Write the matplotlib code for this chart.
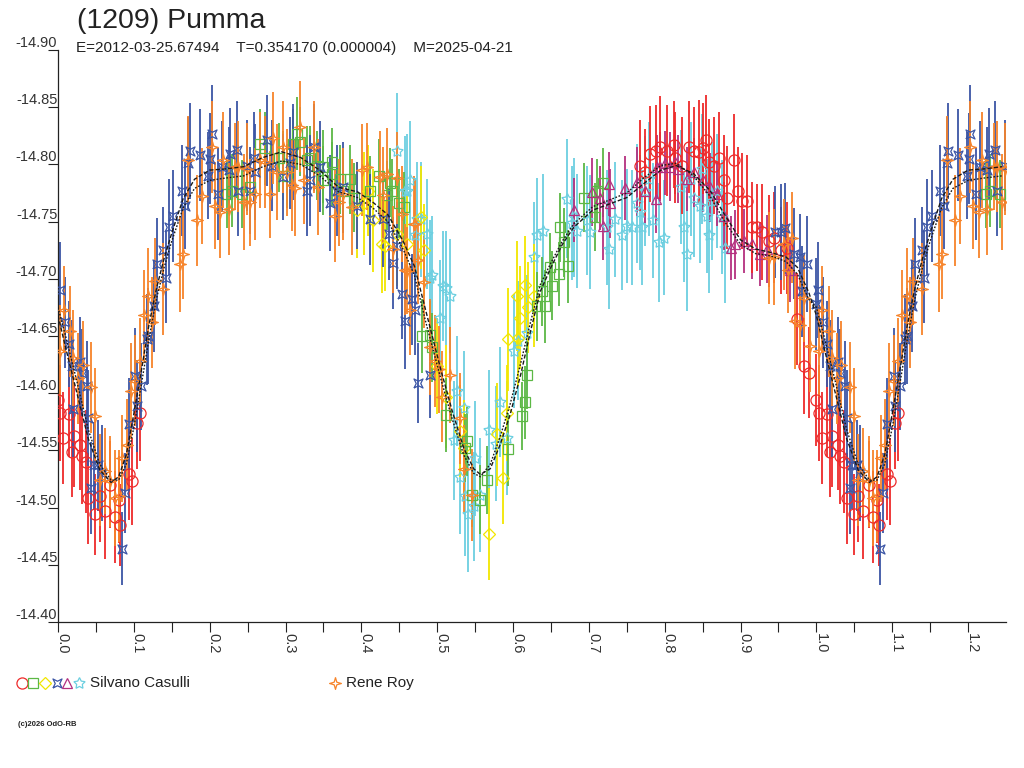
import numpy as np
import matplotlib
matplotlib.use("Agg")
import matplotlib.pyplot as plt

plt.rcParams['font.family'] = ['Liberation Sans', 'DejaVu Sans']

# Lightcurve of (1209) Pumma, folded on P=0.354170 d
# each entry: (phase, reduced magnitude, error)

casulli_circle = [
    (0.000, -14.594, 0.040), (0.003, -14.583, 0.042), (0.007, -14.561, 0.040), (0.014, -14.582, 0.038),
    (0.018, -14.549, 0.040), (0.021, -14.563, 0.045), (0.029, -14.555, 0.040), (0.031, -14.545, 0.042),
    (0.037, -14.540, 0.045), (0.040, -14.508, 0.040), (0.049, -14.494, 0.035), (0.055, -14.510, 0.040),
    (0.062, -14.497, 0.042), (0.069, -14.520, 0.038), (0.075, -14.492, 0.040), (0.080, -14.507, 0.038),
    (0.082, -14.485, 0.036), (0.093, -14.529, 0.040), (0.097, -14.523, 0.038), (0.104, -14.574, 0.040),
    (0.108, -14.583, 0.042),
    (0.768, -14.799, 0.040), (0.774, -14.793, 0.038), (0.781, -14.809, 0.042), (0.788, -14.812, 0.040),
    (0.794, -14.815, 0.045), (0.803, -14.812, 0.040), (0.812, -14.817, 0.038), (0.814, -14.806, 0.040),
    (0.823, -14.799, 0.042), (0.832, -14.815, 0.040), (0.838, -14.812, 0.038), (0.845, -14.811, 0.045),
    (0.851, -14.814, 0.040), (0.854, -14.821, 0.040), (0.858, -14.802, 0.038), (0.865, -14.799, 0.042),
    (0.871, -14.806, 0.040), (0.878, -14.786, 0.040), (0.882, -14.771, 0.045), (0.891, -14.804, 0.040),
    (0.897, -14.777, 0.038), (0.902, -14.768, 0.042), (0.909, -14.768, 0.040), (0.915, -14.745, 0.040),
    (0.922, -14.745, 0.038), (0.928, -14.741, 0.042), (0.937, -14.733, 0.040), (0.944, -14.736, 0.040),
    (0.953, -14.725, 0.038), (0.961, -14.727, 0.040), (0.975, -14.665, 0.040), (0.983, -14.624, 0.042),
    (0.990, -14.618, 0.040),
]

casulli_square = [
    (0.223, -14.774, 0.030), (0.229, -14.777, 0.032), (0.242, -14.774, 0.030), (0.253, -14.780, 0.028),
    (0.266, -14.818, 0.030), (0.273, -14.814, 0.032), (0.291, -14.806, 0.030), (0.297, -14.799, 0.030),
    (0.302, -14.790, 0.028), (0.310, -14.818, 0.030), (0.315, -14.827, 0.032), (0.319, -14.820, 0.030),
    (0.328, -14.804, 0.030), (0.332, -14.806, 0.028), (0.341, -14.799, 0.030), (0.350, -14.798, 0.032),
    (0.350, -14.786, 0.030), (0.361, -14.802, 0.030), (0.361, -14.792, 0.028), (0.372, -14.787, 0.030),
    (0.376, -14.777, 0.032), (0.385, -14.787, 0.030), (0.390, -14.771, 0.030), (0.412, -14.777, 0.030),
    (0.423, -14.790, 0.032), (0.434, -14.773, 0.030), (0.438, -14.784, 0.030), (0.440, -14.777, 0.028),
    (0.449, -14.766, 0.030), (0.456, -14.763, 0.030), (0.480, -14.650, 0.032), (0.491, -14.651, 0.030),
    (0.493, -14.640, 0.030), (0.511, -14.581, 0.032), (0.537, -14.552, 0.030), (0.539, -14.558, 0.030),
    (0.546, -14.511, 0.028), (0.557, -14.507, 0.030), (0.566, -14.524, 0.030), (0.594, -14.551, 0.032),
    (0.612, -14.580, 0.030), (0.616, -14.592, 0.032), (0.618, -14.616, 0.030), (0.632, -14.676, 0.030),
    (0.638, -14.689, 0.030), (0.642, -14.676, 0.032), (0.649, -14.710, 0.030), (0.651, -14.694, 0.030),
    (0.660, -14.704, 0.028), (0.662, -14.745, 0.030), (0.667, -14.732, 0.030), (0.673, -14.711, 0.032),
    (0.693, -14.771, 0.030), (0.708, -14.754, 0.030), (0.711, -14.777, 0.028), (0.719, -14.784, 0.030),
]

casulli_diamond = [
    (0.394, -14.760, 0.042), (0.403, -14.766, 0.045), (0.409, -14.777, 0.040), (0.416, -14.751, 0.045),
    (0.427, -14.730, 0.042), (0.431, -14.729, 0.040), (0.447, -14.739, 0.045), (0.460, -14.730, 0.042),
    (0.478, -14.754, 0.045), (0.482, -14.725, 0.040), (0.500, -14.624, 0.042), (0.511, -14.597, 0.045),
    (0.530, -14.567, 0.040), (0.535, -14.552, 0.042), (0.568, -14.477, 0.040), (0.579, -14.564, 0.045),
    (0.587, -14.526, 0.040), (0.592, -14.583, 0.042), (0.594, -14.647, 0.045), (0.605, -14.685, 0.048),
    (0.607, -14.648, 0.042), (0.609, -14.666, 0.045), (0.616, -14.695, 0.042), (0.620, -14.675, 0.040),
    (0.627, -14.685, 0.045),
]

casulli_quad = [
    (0.002, -14.690, 0.042), (0.009, -14.662, 0.040), (0.014, -14.643, 0.038), (0.018, -14.624, 0.040),
    (0.020, -14.586, 0.042), (0.029, -14.627, 0.040), (0.031, -14.618, 0.038), (0.038, -14.606, 0.040),
    (0.040, -14.578, 0.042), (0.044, -14.517, 0.040), (0.047, -14.537, 0.038), (0.053, -14.537, 0.040),
    (0.058, -14.530, 0.042), (0.084, -14.464, 0.032), (0.088, -14.513, 0.035), (0.093, -14.573, 0.040),
    (0.102, -14.615, 0.042), (0.104, -14.589, 0.040), (0.110, -14.606, 0.038), (0.117, -14.647, 0.040),
    (0.119, -14.650, 0.042), (0.126, -14.676, 0.040), (0.130, -14.713, 0.040), (0.139, -14.725, 0.038),
    (0.142, -14.701, 0.040), (0.146, -14.745, 0.042), (0.152, -14.755, 0.040), (0.163, -14.777, 0.040),
    (0.168, -14.764, 0.038), (0.172, -14.801, 0.040), (0.174, -14.812, 0.042), (0.187, -14.808, 0.040),
    (0.198, -14.790, 0.038), (0.201, -14.805, 0.040), (0.203, -14.827, 0.042), (0.211, -14.774, 0.040),
    (0.216, -14.798, 0.040), (0.225, -14.795, 0.038), (0.227, -14.809, 0.040), (0.236, -14.813, 0.042),
    (0.238, -14.777, 0.040), (0.249, -14.799, 0.040), (0.253, -14.777, 0.038), (0.258, -14.806, 0.040),
    (0.260, -14.793, 0.042), (0.275, -14.821, 0.040), (0.282, -14.799, 0.040), (0.297, -14.789, 0.038),
    (0.306, -14.801, 0.040), (0.310, -14.811, 0.042), (0.328, -14.777, 0.040), (0.332, -14.786, 0.040),
    (0.337, -14.815, 0.038), (0.346, -14.798, 0.040), (0.359, -14.766, 0.042), (0.368, -14.777, 0.040),
    (0.376, -14.780, 0.040), (0.394, -14.764, 0.038), (0.412, -14.752, 0.040), (0.429, -14.752, 0.042),
    (0.436, -14.739, 0.040), (0.442, -14.714, 0.040), (0.447, -14.729, 0.038), (0.453, -14.687, 0.040),
    (0.458, -14.663, 0.042), (0.467, -14.682, 0.040), (0.471, -14.673, 0.040), (0.475, -14.609, 0.035),
    (0.491, -14.616, 0.038),
    (0.946, -14.741, 0.040), (0.953, -14.741, 0.042), (0.959, -14.744, 0.040), (0.970, -14.722, 0.040),
    (0.979, -14.719, 0.038), (0.981, -14.689, 0.040), (0.988, -14.713, 0.042), (0.999, -14.678, 0.040),
]

casulli_triangle = [
    (0.680, -14.760, 0.028), (0.704, -14.776, 0.030), (0.715, -14.771, 0.028), (0.719, -14.746, 0.030),
    (0.726, -14.783, 0.028), (0.728, -14.766, 0.030), (0.748, -14.779, 0.028), (0.763, -14.785, 0.030),
    (0.774, -14.777, 0.028), (0.788, -14.770, 0.030), (0.790, -14.798, 0.028), (0.794, -14.798, 0.030),
    (0.801, -14.801, 0.028), (0.807, -14.798, 0.030), (0.814, -14.802, 0.028), (0.818, -14.796, 0.030),
    (0.829, -14.787, 0.028), (0.838, -14.793, 0.030), (0.851, -14.786, 0.028), (0.860, -14.780, 0.030),
    (0.869, -14.774, 0.028), (0.878, -14.755, 0.030), (0.887, -14.727, 0.028), (0.893, -14.730, 0.030),
    (0.904, -14.733, 0.028), (0.915, -14.730, 0.030), (0.926, -14.722, 0.028), (0.935, -14.726, 0.030),
    (0.965, -14.708, 0.028),
]

casulli_star = [
    (0.447, -14.812, 0.050), (0.458, -14.777, 0.048), (0.460, -14.777, 0.050), (0.464, -14.786, 0.052),
    (0.471, -14.738, 0.048), (0.473, -14.752, 0.050), (0.478, -14.752, 0.050), (0.486, -14.739, 0.048),
    (0.491, -14.701, 0.050), (0.493, -14.703, 0.052), (0.504, -14.666, 0.050), (0.508, -14.694, 0.048),
    (0.511, -14.692, 0.050), (0.517, -14.685, 0.050), (0.522, -14.559, 0.052), (0.526, -14.602, 0.048),
    (0.530, -14.527, 0.050), (0.535, -14.587, 0.050), (0.537, -14.510, 0.052), (0.541, -14.494, 0.050),
    (0.548, -14.501, 0.048), (0.550, -14.543, 0.050), (0.557, -14.511, 0.050), (0.568, -14.568, 0.052),
    (0.577, -14.556, 0.050), (0.583, -14.592, 0.048), (0.592, -14.561, 0.050), (0.601, -14.637, 0.050),
    (0.607, -14.646, 0.052), (0.618, -14.653, 0.050), (0.627, -14.719, 0.048), (0.632, -14.738, 0.050),
    (0.640, -14.742, 0.050), (0.671, -14.770, 0.052), (0.678, -14.749, 0.050), (0.680, -14.754, 0.052),
    (0.684, -14.742, 0.050), (0.697, -14.751, 0.048), (0.702, -14.741, 0.050), (0.724, -14.745, 0.050),
    (0.726, -14.726, 0.052), (0.735, -14.752, 0.050), (0.744, -14.738, 0.048), (0.750, -14.746, 0.050),
    (0.757, -14.745, 0.050), (0.763, -14.766, 0.052), (0.768, -14.758, 0.050), (0.770, -14.745, 0.050),
    (0.774, -14.777, 0.048), (0.779, -14.787, 0.050), (0.785, -14.751, 0.050), (0.792, -14.732, 0.052),
    (0.799, -14.736, 0.050), (0.821, -14.780, 0.050), (0.825, -14.745, 0.048), (0.829, -14.722, 0.050),
    (0.834, -14.787, 0.050), (0.838, -14.771, 0.052), (0.847, -14.764, 0.050), (0.849, -14.796, 0.048),
    (0.856, -14.755, 0.050), (0.858, -14.738, 0.050), (0.862, -14.768, 0.052), (0.869, -14.777, 0.050),
    (0.876, -14.754, 0.050), (0.880, -14.727, 0.048),
]

roy = [
    (0.003, -14.637, 0.040), (0.008, -14.673, 0.038), (0.016, -14.654, 0.040), (0.020, -14.631, 0.042),
    (0.027, -14.613, 0.040), (0.033, -14.625, 0.038), (0.044, -14.605, 0.040), (0.049, -14.580, 0.042),
    (0.055, -14.524, 0.040), (0.062, -14.532, 0.038), (0.069, -14.523, 0.040), (0.075, -14.508, 0.042),
    (0.080, -14.510, 0.040), (0.085, -14.543, 0.038), (0.091, -14.555, 0.040), (0.096, -14.602, 0.042),
    (0.102, -14.611, 0.040), (0.108, -14.628, 0.038), (0.113, -14.668, 0.040), (0.119, -14.685, 0.042),
    (0.124, -14.662, 0.040), (0.128, -14.698, 0.038), (0.139, -14.691, 0.040), (0.161, -14.713, 0.042),
    (0.165, -14.722, 0.040), (0.172, -14.804, 0.038), (0.183, -14.751, 0.040), (0.190, -14.772, 0.042),
    (0.203, -14.815, 0.040), (0.207, -14.764, 0.038), (0.214, -14.758, 0.040), (0.218, -14.804, 0.042),
    (0.225, -14.761, 0.040), (0.234, -14.798, 0.038), (0.238, -14.798, 0.040), (0.245, -14.767, 0.042),
    (0.249, -14.796, 0.040), (0.253, -14.767, 0.038), (0.260, -14.774, 0.040), (0.266, -14.804, 0.042),
    (0.273, -14.802, 0.040), (0.280, -14.774, 0.038), (0.284, -14.823, 0.040), (0.289, -14.793, 0.042),
    (0.297, -14.815, 0.040), (0.302, -14.793, 0.038), (0.308, -14.782, 0.040), (0.313, -14.779, 0.042),
    (0.319, -14.833, 0.040), (0.324, -14.786, 0.038), (0.337, -14.815, 0.040), (0.343, -14.780, 0.042),
    (0.365, -14.755, 0.040), (0.370, -14.767, 0.038), (0.376, -14.774, 0.040), (0.387, -14.763, 0.042),
    (0.401, -14.795, 0.040), (0.407, -14.798, 0.038), (0.425, -14.789, 0.040), (0.429, -14.773, 0.042),
    (0.434, -14.792, 0.040), (0.442, -14.726, 0.038), (0.447, -14.788, 0.040), (0.453, -14.757, 0.042),
    (0.458, -14.708, 0.040), (0.460, -14.707, 0.038), (0.464, -14.673, 0.040), (0.469, -14.748, 0.042),
    (0.471, -14.748, 0.040), (0.475, -14.716, 0.038), (0.482, -14.697, 0.040), (0.491, -14.640, 0.042),
    (0.497, -14.628, 0.040), (0.502, -14.621, 0.038), (0.506, -14.597, 0.040), (0.517, -14.616, 0.042),
    (0.530, -14.578, 0.040), (0.535, -14.534, 0.038), (0.546, -14.511, 0.040),
    (0.937, -14.718, 0.040), (0.944, -14.719, 0.042), (0.957, -14.730, 0.040), (0.963, -14.708, 0.038),
    (0.968, -14.736, 0.040), (0.972, -14.663, 0.042), (0.979, -14.660, 0.040), (0.983, -14.683, 0.038),
    (0.992, -14.641, 0.040),
]

# model curves (phase, mag)
fit_a = [
    (0.000, -14.668), (0.010, -14.640), (0.025, -14.600), (0.040, -14.560), (0.055, -14.533),
    (0.070, -14.522), (0.080, -14.527), (0.090, -14.546), (0.100, -14.582), (0.110, -14.620),
    (0.120, -14.660), (0.130, -14.692), (0.140, -14.718), (0.150, -14.740), (0.165, -14.770),
    (0.180, -14.787), (0.200, -14.795), (0.220, -14.796), (0.245, -14.798), (0.270, -14.806),
    (0.295, -14.811), (0.320, -14.806), (0.345, -14.795), (0.370, -14.780), (0.395, -14.776),
    (0.415, -14.767), (0.435, -14.756), (0.455, -14.733), (0.470, -14.711), (0.485, -14.672),
    (0.505, -14.620), (0.520, -14.584), (0.535, -14.552), (0.548, -14.534), (0.557, -14.529),
    (0.570, -14.534), (0.583, -14.555), (0.596, -14.581), (0.610, -14.616), (0.623, -14.654),
    (0.636, -14.689), (0.650, -14.710), (0.665, -14.730), (0.680, -14.745), (0.705, -14.760),
    (0.750, -14.771), (0.772, -14.783), (0.795, -14.795), (0.815, -14.799), (0.838, -14.792),
    (0.860, -14.777), (0.880, -14.755), (0.900, -14.734), (0.920, -14.726), (0.940, -14.723),
    (0.960, -14.719), (0.975, -14.710), (0.990, -14.688), (1.000, -14.668),
]
fit_b = [
    (0.000, -14.675), (0.010, -14.650), (0.025, -14.610), (0.040, -14.568), (0.055, -14.538),
    (0.070, -14.524), (0.080, -14.524), (0.090, -14.538), (0.100, -14.570), (0.110, -14.608),
    (0.120, -14.648), (0.130, -14.683), (0.140, -14.710), (0.150, -14.733), (0.165, -14.762),
    (0.180, -14.779), (0.200, -14.786), (0.220, -14.788), (0.245, -14.790), (0.270, -14.798),
    (0.295, -14.803), (0.320, -14.800), (0.345, -14.790), (0.370, -14.776), (0.395, -14.771),
    (0.415, -14.762), (0.435, -14.750), (0.455, -14.726), (0.470, -14.703), (0.485, -14.662),
    (0.505, -14.612), (0.520, -14.577), (0.535, -14.546), (0.548, -14.530), (0.557, -14.527),
    (0.570, -14.538), (0.583, -14.562), (0.596, -14.590), (0.610, -14.626), (0.623, -14.662),
    (0.636, -14.695), (0.650, -14.714), (0.665, -14.733), (0.680, -14.748), (0.705, -14.763),
    (0.750, -14.775), (0.772, -14.788), (0.795, -14.799), (0.815, -14.801), (0.838, -14.790),
    (0.860, -14.772), (0.880, -14.749), (0.900, -14.730), (0.920, -14.722), (0.940, -14.720),
    (0.960, -14.715), (0.975, -14.704), (0.990, -14.682), (1.000, -14.675),
]

y_ticks = [-14.90, -14.85, -14.80, -14.75, -14.70, -14.65, -14.60, -14.55, -14.50, -14.45, -14.40]
x_ticks = [0.0, 0.1, 0.2, 0.3, 0.4, 0.5, 0.6, 0.7, 0.8, 0.9, 1.0, 1.1, 1.2]

title = "(1209) Pumma"
subtitle = "E=2012-03-25.67494    T=0.354170 (0.000004)    M=2025-04-21"

# marker shapes
quad_mark = [(-1, -1), (0, -0.5), (1, -1), (0.5, 0), (1, 1), (0, 0.5), (-1, 1), (-0.5, 0), (-1, -1)]
spark_mark = [(0, 1), (0.22, 0.22), (1, 0), (0.22, -0.22), (0, -1), (-0.22, -0.22), (-1, 0), (-0.22, 0.22), (0, 1)]

series = [
    (casulli_star, '#6ccfe0', (5, 1, 0), 8.5),
    (casulli_diamond, '#f2e600', 'D', 6.0),
    (casulli_square, '#5cb845', 's', 6.5),
    (casulli_triangle, '#b4307f', '^', 7.0),
    (casulli_circle, '#ee2a2a', 'o', 8.0),
    (casulli_quad, '#3b55a5', quad_mark, 6.5),
    (roy, '#f7842a', spark_mark, 8.5),
]


def fold(points):
    # repeat the start of the cycle past phase 1
    pts = list(points) + [(p[0] + 1.0,) + tuple(p[1:]) for p in points if p[0] <= 0.25]
    return np.array(pts)


W, H = 1024, 768
fig = plt.figure(figsize=(W / 100, H / 100), dpi=100)
ax = fig.add_axes([58 / W, 1 - 622 / H, (1006 - 58) / W, (622 - 50) / H])

for pts, col, mk, ms in series:
    d = fold(pts)
    ax.errorbar(d[:, 0], d[:, 1], yerr=d[:, 2], fmt='none', ecolor=col, elinewidth=1.3, capsize=0, zorder=2)
    ax.plot(d[:, 0], d[:, 1], ls='none', marker=mk, ms=ms, mfc='none', mec=col, mew=0.9, zorder=3)

for fit, ls in [(fit_a, (0, (3, 1.5))), (fit_b, (0, (1.2, 1.2)))]:
    d = fold(fit)
    d = d[np.argsort(d[:, 0])]
    ax.plot(d[:, 0], d[:, 1], color='#1a1a1a', lw=1.0, ls=ls, zorder=4)

ax.set_xlim(0, 1.25)
ax.set_ylim(-14.40, -14.90)
for s in ['top', 'right']:
    ax.spines[s].set_visible(False)
for s in ['left', 'bottom']:
    ax.spines[s].set_linewidth(0.9)
    ax.spines[s].set_color('#222222')

ax.set_yticks(y_ticks)
ax.set_yticklabels([f"{v:.2f}" for v in y_ticks])
ax.tick_params(axis='y', direction='out', length=7, width=0.8, pad=-6.5, labelsize=10.5,
               labelcolor='#333333', color='#222222')
for lab in ax.get_yticklabels():
    lab.set_va('bottom')

ax.set_xticks(x_ticks)
ax.set_xticks(np.arange(0.05, 1.25, 0.1), minor=True)
ax.set_xticklabels([f"{v:.1f}" for v in x_ticks])
ax.tick_params(axis='x', which='both', direction='out', length=7, width=0.8, color='#222222')
ax.tick_params(axis='x', pad=1, labelsize=10.5, labelcolor='#333333')
for lab in ax.get_xticklabels():
    lab.set_rotation(-90)
    lab.set_rotation_mode('anchor')
    lab.set_ha('left')
    lab.set_va('baseline')

fig.text(77 / W, 1 - 21 / H, title, fontsize=20.5, color='#222222', va='center', ha='left')
fig.text(76 / W, 1 - 48 / H, subtitle, fontsize=11, color='#222222', va='center', ha='left')

# legend row, drawn in pixel coordinates
lax = fig.add_axes([0, 0, 1, 1])
lax.set_xlim(0, W)
lax.set_ylim(H, 0)
lax.axis('off')
legend_marks = [(22, '#ee2a2a', 'o', 8.0), (33, '#5cb845', 's', 6.5), (45, '#f2e600', 'D', 6.0),
                (57, '#3b55a5', quad_mark, 6.5), (67, '#b4307f', '^', 7.0), (79, '#6ccfe0', (5, 1, 0), 8.5)]
for x, col, mk, ms in legend_marks:
    lax.plot([x], [683], ls='none', marker=mk, ms=ms, mfc='none', mec=col, mew=0.9)
lax.text(90, 683, "Silvano Casulli", fontsize=11, color='#222222', va='center', ha='left')
lax.plot([335], [683], ls='none', marker=spark_mark, ms=8.5, mfc='none', mec='#f7842a', mew=0.9)
lax.text(346, 683, "Rene Roy", fontsize=11, color='#222222', va='center', ha='left')
lax.text(18, 725, "(c)2026 OdO-RB", fontsize=5.5, color='#222222', va='center', ha='left', weight='bold')

fig.savefig('out.png', dpi=100, facecolor='white')
